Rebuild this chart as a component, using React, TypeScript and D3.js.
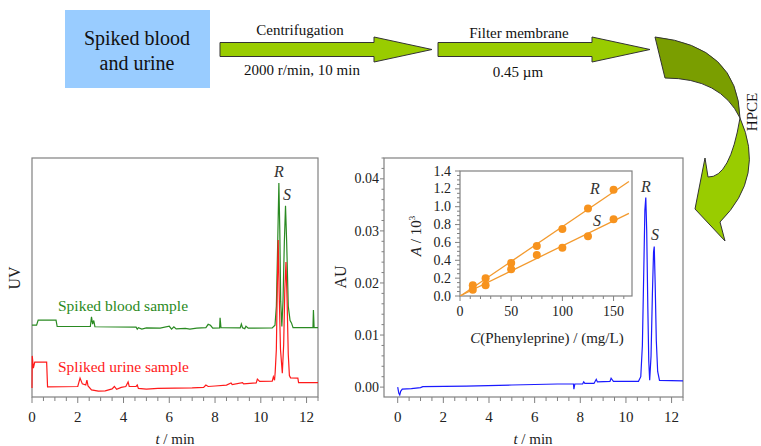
import React from "react";
import * as d3 from "d3";

const W = 761;
const H = 446;
const SERIF = "Liberation Serif, DejaVu Serif, Times New Roman, serif";
const AXIS = "#808080";

// left chromatogram, arbitrary UV units [t (min), signal]
const bloodTrace: [number, number][] = [
  [0, 30.1], [0.2, 30.1], [0.27, 32.2], [1.05, 32.2], [1.1, 29.5], [2.55, 29.5], [2.6, 33.5],
  [2.65, 30.5], [2.7, 32.0], [2.75, 29.4], [4.55, 29.2], [4.6, 28.4], [4.65, 29.0], [4.8, 28.4],
  [5.0, 28.9], [5.6, 28.8], [6.0, 29.6], [6.1, 28.4], [6.2, 29.4], [6.3, 28.5], [6.7, 28.7],
  [6.9, 28.4], [7.2, 28.8], [7.6, 29.0], [7.7, 30.4], [7.8, 30.0], [7.9, 28.8], [8.2, 28.9],
  [8.22, 33.1], [8.26, 29.0], [9.1, 28.9], [9.15, 30.5], [9.2, 29.0], [9.3, 28.6], [9.35, 29.6],
  [9.45, 28.8], [10.5, 28.9], [10.62, 30.0], [10.68, 38], [10.74, 65], [10.79, 89.5],
  [10.83, 70], [10.87, 40], [10.92, 29.5], [10.97, 40], [11.03, 65], [11.08, 80], [11.13, 65],
  [11.2, 38], [11.28, 32], [11.34, 31], [11.41, 29], [12.28, 29], [12.3, 36.4], [12.33, 29],
  [12.5, 29],
];

const urineTrace: [number, number][] = [
  [0, 3.8], [0.01, 17.2], [0.06, 12.1], [0.12, 14.6], [0.64, 14.6], [0.68, 4.2], [2.0, 4.4],
  [2.1, 7.9], [2.2, 5.5], [2.35, 5.0], [2.4, 7.1], [2.45, 4.6], [2.6, 3.0], [2.9, 2.5],
  [3.2, 2.6], [3.5, 3.4], [3.6, 4.4], [3.7, 3.2], [3.9, 4.0], [4.1, 4.4], [4.2, 6.3],
  [4.25, 4.4], [4.55, 4.4], [4.6, 5.0], [4.65, 3.6], [5.0, 3.3], [5.5, 3.6], [7.0, 3.8],
  [7.5, 4.0], [7.6, 5.0], [7.7, 4.4], [8.0, 4.6], [8.5, 5.0], [8.7, 5.9], [8.75, 5.2],
  [9.2, 6.0], [9.25, 5.5], [9.8, 5.9], [9.85, 7.5], [9.95, 6.5], [10.5, 6.6], [10.55, 8.4],
  [10.6, 7.0], [10.63, 10.5], [10.68, 20], [10.72, 45], [10.76, 65.7], [10.8, 45], [10.86, 20],
  [10.94, 10.0], [11.0, 22], [11.05, 45], [11.1, 56.5], [11.15, 40], [11.2, 18], [11.25, 9],
  [11.3, 8.0], [11.62, 7.9], [11.65, 6.0], [12.5, 6.0],
];

// right chromatogram, AU
const standardTrace: [number, number][] = [
  [0, 0.0], [0.05, -0.0012], [0.09, -0.0015], [0.13, -0.0008], [0.2, -0.0004], [0.6, -0.0003],
  [1.0, -0.0001], [1.1, 0.0001], [3.0, 0.0002], [5.0, 0.0004], [7.0, 0.0006], [7.7, 0.0006],
  [7.72, -0.0004], [7.76, 0.0006], [8.1, 0.0006], [8.15, 0.001], [8.2, 0.0007], [8.6, 0.0007],
  [8.7, 0.0015], [8.75, 0.001], [9.3, 0.0011], [9.35, 0.0017], [9.45, 0.0011], [10.55, 0.0011],
  [10.65, 0.002], [10.72, 0.008], [10.78, 0.022], [10.83, 0.034], [10.87, 0.0364], [10.91, 0.03],
  [10.96, 0.015], [11.0, 0.005], [11.04, 0.0013], [11.1, 0.006], [11.16, 0.018], [11.21, 0.026],
  [11.24, 0.027], [11.28, 0.02], [11.33, 0.009], [11.39, 0.003], [11.47, 0.0013], [12.5, 0.0012],
];

// inset calibration
const concentrations = [12.5, 25, 50, 75, 100, 125, 150];
const areaR = [0.12, 0.2, 0.37, 0.56, 0.75, 0.98, 1.19];
const areaS = [0.07, 0.12, 0.3, 0.46, 0.54, 0.67, 0.86];

const timeTicks = [0, 2, 4, 6, 8, 10, 12];
const auTicks = [0, 0.01, 0.02, 0.03, 0.04];
const insetYTicks = [0, 0.2, 0.4, 0.6, 0.8, 1.0, 1.2, 1.4];
const insetXTicks = [0, 50, 100, 150];

// scales
const xL = d3.scaleLinear().domain([0, 12.5]).range([32, 318]);
const yL = d3.scaleLinear().domain([0, 100]).range([397, 158]);
const xR = d3.scaleLinear().domain([-0.6, 12.5]).range([384, 683]);
const yR = d3.scaleLinear().domain([-0.0019, 0.044]).range([397, 158]);
const xI = d3.scaleLinear().domain([0, 168]).range([460, 632]);
const yI = d3.scaleLinear().domain([0, 1.4]).range([296, 171]);

function fit(xs: number[], ys: number[]) {
  const mx = d3.mean(xs)!;
  const my = d3.mean(ys)!;
  let sxy = 0;
  let sxx = 0;
  xs.forEach((x, i) => {
    sxy += (x - mx) * (ys[i] - my);
    sxx += (x - mx) * (x - mx);
  });
  const b = sxy / sxx;
  return { b, a: my - b * mx };
}

function arrowPath(x0: number, x1: number, yc: number, sh: number, hh: number, hl: number) {
  const xs = x1 - hl;
  return `M${x0},${yc - sh}L${xs},${yc - sh}L${xs},${yc - hh}L${x1},${yc}L${xs},${yc + hh}L${xs},${yc + sh}L${x0},${yc + sh}Z`;
}

const App = () => {
  const lineL = d3
    .line<[number, number]>()
    .x((d) => xL(d[0]))
    .y((d) => yL(d[1]));
  const lineR = d3
    .line<[number, number]>()
    .x((d) => xR(d[0]))
    .y((d) => yR(d[1]));

  const fitR = fit(concentrations, areaR);
  const fitS = fit(concentrations, areaS);
  const fitLine = (f: { a: number; b: number }) =>
    `M${xI(0)},${yI(f.a)}L${xI(165)},${yI(f.a + f.b * 165)}`;

  const leftMinor = d3.range(0, 12.51, 0.5);
  const rightXMinor = d3.range(0, 12.51, 0.5);
  const rightYMinor = d3.range(0, 0.0441, 0.002);
  const insetYMinor = d3.range(0, 1.401, 0.05);
  const insetXMinor = d3.range(0, 168, 10);

  return (
    <svg
      width={W}
      height={H}
      style={{ position: "absolute", left: 0, top: 0, background: "#fff", fontFamily: SERIF }}
    >
      {/* flow scheme */}
      <rect x={65} y={10} width={145} height={78} fill="#99ccff" />
      <text x={137} y={45} fontSize={20} textAnchor="middle" fill="#111">Spiked blood</text>
      <text x={137} y={70} fontSize={20} textAnchor="middle" fill="#111">and urine</text>

      <path d={arrowPath(220, 432, 49.5, 7, 12.5, 58)} fill="#99cc00" stroke="#333" strokeWidth={1} />
      <text x={300} y={35} fontSize={15} textAnchor="middle" fill="#111">Centrifugation</text>
      <text x={302} y={75} fontSize={15} textAnchor="middle" fill="#111">2000 r/min, 10 min</text>

      <path d={arrowPath(438, 650, 49.5, 7, 12.5, 58)} fill="#99cc00" stroke="#333" strokeWidth={1} />
      <text x={519} y={38} fontSize={15} textAnchor="middle" fill="#111">Filter membrane</text>
      <text x={518} y={77} fontSize={15} textAnchor="middle" fill="#111">0.45 µm</text>

      {/* curved arrow */}
      <path d="M655,37Q738,46 740,118Q721,78 665,78Z" fill="#7a9e00" stroke="#333" strokeWidth={1} />
      <path
        d="M740,118Q766,176 720,222L725,241L695,209L705,158L708,177Q730,178 740,118Z"
        fill="#99cc00"
        stroke="#333"
        strokeWidth={1}
      />
      <text x={752} y={112} fontSize={15} textAnchor="middle" fill="#111" transform="rotate(-90 752 112)" dy="0.33em">
        HPCE
      </text>

      {/* left chromatogram */}
      <g>
        <rect x={32} y={158} width={286} height={239} fill="none" stroke={AXIS} strokeWidth={1.2} />
        {leftMinor.map((t) => (
          <line key={t} x1={xL(t)} x2={xL(t)} y1={397} y2={timeTicks.includes(t) ? 403 : 401} stroke={AXIS} />
        ))}
        {timeTicks.map((t) => (
          <text key={t} x={xL(t)} y={422} fontSize={15} textAnchor="middle" fill="#222">{t}</text>
        ))}
        <text x={175} y={444} fontSize={15} textAnchor="middle" fill="#222">
          <tspan fontStyle="italic">t</tspan> / min
        </text>
        <text x={20} y={278} fontSize={16} textAnchor="middle" fill="#222" transform="rotate(-90 20 278)">UV</text>
        <path d={lineL(bloodTrace)!} fill="none" stroke="#2a8a22" strokeWidth={1.2} />
        <path d={lineL(urineTrace)!} fill="none" stroke="#ff1a1a" strokeWidth={1.2} />
        <text x={58} y={311} fontSize={15.5} fill="#2a8a22">Spiked blood sample</text>
        <text x={58} y={372} fontSize={15.5} fill="#ff1a1a">Spliked urine sample</text>
        <text x={279} y={177} fontSize={16} fontStyle="italic" textAnchor="middle" fill="#333">R</text>
        <text x={287} y={200} fontSize={16} fontStyle="italic" textAnchor="middle" fill="#333">S</text>
      </g>

      {/* right chromatogram */}
      <g>
        <rect x={384} y={158} width={299} height={239} fill="none" stroke={AXIS} strokeWidth={1.2} />
        {rightXMinor.map((t) => (
          <line key={t} x1={xR(t)} x2={xR(t)} y1={397} y2={timeTicks.includes(t) ? 403 : 401} stroke={AXIS} />
        ))}
        {timeTicks.map((t) => (
          <text key={t} x={xR(t)} y={422} fontSize={15} textAnchor="middle" fill="#222">{t}</text>
        ))}
        {rightYMinor.map((v, i) => (
          <line key={i} x1={384} x2={i % 5 === 0 ? 380 : 381.5} y1={yR(v)} y2={yR(v)} stroke={AXIS} />
        ))}
        {auTicks.map((v) => (
          <text key={v} x={379} y={yR(v)} dy="0.33em" fontSize={14} textAnchor="end" fill="#222">
            {d3.format(".2f")(v)}
          </text>
        ))}
        <text x={533} y={444} fontSize={15} textAnchor="middle" fill="#222">
          <tspan fontStyle="italic">t</tspan> / min
        </text>
        <text x={346} y={277} fontSize={16} textAnchor="middle" fill="#222" transform="rotate(-90 346 277)">AU</text>
        <path d={lineR(standardTrace)!} fill="none" stroke="#1a1aff" strokeWidth={1.2} />
        <text x={646} y={192} fontSize={16} fontStyle="italic" textAnchor="middle" fill="#333">R</text>
        <text x={655} y={240} fontSize={16} fontStyle="italic" textAnchor="middle" fill="#333">S</text>
      </g>

      {/* inset calibration */}
      <g>
        <rect x={460} y={171} width={172} height={125} fill="#fff" stroke={AXIS} strokeWidth={1.2} />
        {insetYMinor.map((v, i) => (
          <line key={i} x1={460} x2={i % 4 === 0 ? 455 : 457} y1={yI(v)} y2={yI(v)} stroke={AXIS} />
        ))}
        {insetXMinor.map((v) => (
          <line key={v} x1={xI(v)} x2={xI(v)} y1={296} y2={insetXTicks.includes(v) ? 301 : 299} stroke={AXIS} />
        ))}
        {insetYTicks.map((v) => (
          <text key={v} x={451} y={yI(v)} dy="0.33em" fontSize={14} textAnchor="end" fill="#222">
            {d3.format(".1f")(v)}
          </text>
        ))}
        {insetXTicks.map((v) => (
          <text key={v} x={xI(v)} y={316} fontSize={14} textAnchor="middle" fill="#222">{v}</text>
        ))}
        <text x={547} y={343} fontSize={15} textAnchor="middle" fill="#222">
          <tspan fontStyle="italic">C</tspan>(Phenyleprine) / (mg/L)
        </text>
        <text x={421} y={236} fontSize={15} textAnchor="middle" fill="#222" transform="rotate(-90 421 236)">
          <tspan fontStyle="italic">A</tspan> / 10<tspan fontSize={9} dy="-6">3</tspan>
        </text>
        <defs>
          <clipPath id="insetClip">
            <rect x={460} y={171} width={172} height={125} />
          </clipPath>
        </defs>
        <g clipPath="url(#insetClip)">
          <path d={fitLine(fitR)} stroke="#f39a2e" strokeWidth={1.3} fill="none" />
          <path d={fitLine(fitS)} stroke="#f39a2e" strokeWidth={1.3} fill="none" />
        </g>
        {concentrations.map((c, i) => (
          <g key={c}>
            <circle cx={xI(c)} cy={yI(areaR[i])} r={4} fill="#f7931e" />
            <circle cx={xI(c)} cy={yI(areaS[i])} r={4} fill="#f7931e" />
          </g>
        ))}
        <text x={595} y={194} fontSize={16} fontStyle="italic" textAnchor="middle" fill="#333">R</text>
        <text x={597} y={226} fontSize={16} fontStyle="italic" textAnchor="middle" fill="#333">S</text>
      </g>
    </svg>
  );
};

export default App;
